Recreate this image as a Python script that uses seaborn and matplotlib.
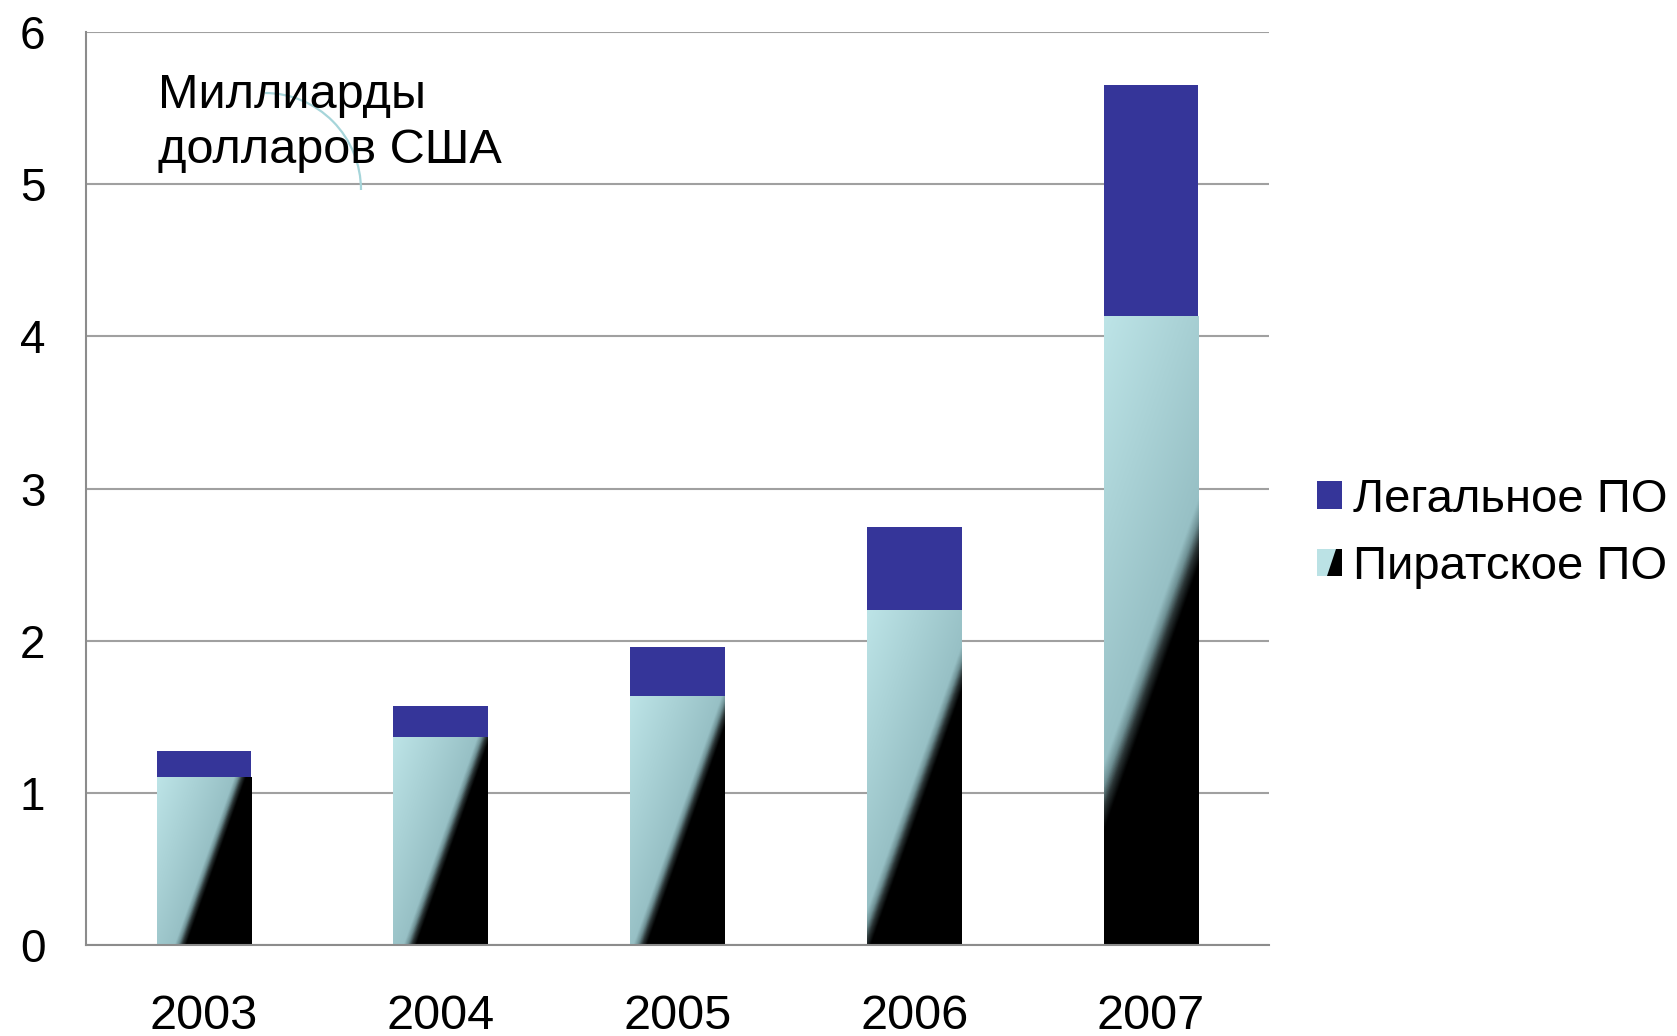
import numpy as np
import pandas as pd
import matplotlib
matplotlib.use("Agg")
import matplotlib.pyplot as plt
from matplotlib.patches import Rectangle, Polygon, Patch, Arc
from matplotlib.colors import LinearSegmentedColormap
from matplotlib.legend_handler import HandlerBase
import seaborn as sns

# ---- data (billions of US dollars) ----
years = ["2003", "2004", "2005", "2006", "2007"]
pirated = [1.10, 1.36, 1.63, 2.20, 4.13]
legal = [0.18, 0.21, 0.33, 0.55, 1.52]
y_ticks = [0, 1, 2, 3, 4, 5, 6]
unit_lines = ["Миллиарды", "долларов США"]
series_names = ["Легальное ПО", "Пиратское ПО"]

# ---- styling ----
LEGAL_COLOR = "#353599"
LIGHT = "#bbe2e5"
GRAY = "#8c8c8c"
GRID = "#a0a0a0"
ARC_COLOR = "#a6d5da"

sns.set_style("white")
plt.rcParams["font.family"] = ["Liberation Sans", "DejaVu Sans"]
plt.rcParams["text.color"] = "black"
plt.rcParams["xtick.labelcolor"] = "black"
plt.rcParams["ytick.labelcolor"] = "black"

df = pd.DataFrame({
    "year": years,
    "pirated": pirated,
    "total": np.add(pirated, legal),
})

fig = plt.figure(figsize=(16.77, 10.36), dpi=100)
ax = fig.add_axes([0.0511, 0.0874, 0.7059, 0.8817])

# stacked bars: full height in the legal colour, pirated part drawn over it
sns.barplot(data=df, x="year", y="total", color=LEGAL_COLOR, saturation=1,
            width=0.4, errorbar=None, linewidth=0, ax=ax)
sns.barplot(data=df, x="year", y="pirated", color=LIGHT, saturation=1,
            width=0.4, errorbar=None, linewidth=0, ax=ax)

ax.set_xlim(-0.5, 4.5)
ax.set_ylim(0, 6)

# diagonal light-teal -> black fill for the pirated segments
cmap = LinearSegmentedColormap.from_list("pirated", [
    (0.00, "#bde4e7"),
    (0.50, "#97c0c5"),
    (0.525, "#6f9195"),
    (0.55, "#2a3435"),
    (0.575, "#000000"),
    (1.00, "#000000"),
])
slope = 2.8
pirate_bars = ax.patches[len(years):2 * len(years)]
for bar in pirate_bars:
    x0, y0 = bar.get_x(), bar.get_y()
    w, h = bar.get_width(), bar.get_height()
    (px0, py0), (px1, py1) = ax.transData.transform([(x0, y0), (x0 + w, y0 + h)])
    W, H = px1 - px0, py1 - py0
    xs = np.linspace(0, W, max(int(W) * 2, 2))
    ys = np.linspace(0, H, max(int(H) * 2, 2))
    X, Y = np.meshgrid(xs, ys)
    t = (slope * X - Y + H) / (slope * W + H)
    ax.imshow(t, cmap=cmap, vmin=0, vmax=1, extent=[x0, x0 + w, y0, y0 + h],
              origin="lower", aspect="auto", interpolation="bilinear",
              zorder=bar.get_zorder() + 0.1)

ax.set_xlim(-0.5, 4.5)
ax.set_ylim(0, 6)
ax.set_xlabel("")
ax.set_ylabel("")

# axes, grid and ticks
ax.set_axisbelow(True)
ax.yaxis.grid(True, color=GRID, linewidth=1.5)
ax.xaxis.grid(False)
for side in ["top", "right"]:
    ax.spines[side].set_visible(False)
for side in ["left", "bottom"]:
    ax.spines[side].set_color(GRAY)
    ax.spines[side].set_linewidth(1.5)

ax.set_yticks(y_ticks)
ax.set_yticklabels([str(v) for v in y_ticks])
ax.tick_params(axis="y", length=9, width=1.5, color=GRAY, pad=20,
               labelsize=33, labelcolor="black")
ax.set_xticks(range(len(years)))
ax.set_xticklabels(years)
ax.set_xticks(np.arange(-0.5, len(years), 1.0), minor=True)
ax.tick_params(axis="x", which="major", length=0, pad=35, labelsize=35,
               labelcolor="black")
ax.tick_params(axis="x", which="minor", length=9, width=1.5, color=GRAY)


# legend with a gradient-like swatch for the pirated series
class GradientSwatch(HandlerBase):
    def create_artists(self, legend, orig_handle, xdescent, ydescent,
                       width, height, fontsize, trans):
        x0, y0 = -xdescent, -ydescent
        light = Rectangle((x0, y0), width, height, facecolor=LIGHT,
                          edgecolor="none", transform=trans)
        dark = Polygon([(x0 + 0.40 * width, y0), (x0 + width, y0),
                        (x0 + width, y0 + height), (x0 + 0.78 * width, y0 + height)],
                       closed=True, facecolor="black", edgecolor="none",
                       transform=trans)
        return [light, dark]


legal_handle = Patch(facecolor=LEGAL_COLOR, edgecolor="none")
pirate_handle = Patch(facecolor=LIGHT, edgecolor="none")
fig.legend([legal_handle, pirate_handle], series_names,
           handler_map={pirate_handle: GradientSwatch()},
           loc="upper left", bbox_to_anchor=(0.7853, 0.539),
           frameon=False, fontsize=34, handlelength=0.53, handleheight=0.53,
           handletextpad=0.23, labelspacing=0.50, borderpad=0, borderaxespad=0)

# unit caption with its curved leader
fig.add_artist(Arc((265 / 1677, 1 - 190 / 1036), 2 * 96 / 1677, 2 * 97 / 1036,
                   theta1=0, theta2=90, transform=fig.transFigure,
                   color=ARC_COLOR, linewidth=1.6))
fig.text(0.0943, 1 - 108 / 1036, unit_lines[0], fontsize=35, va="baseline",
         ha="left", color="black")
fig.text(0.0943, 1 - 163 / 1036, unit_lines[1], fontsize=35, va="baseline",
         ha="left", color="black")

fig.savefig("out.png", dpi=100)
